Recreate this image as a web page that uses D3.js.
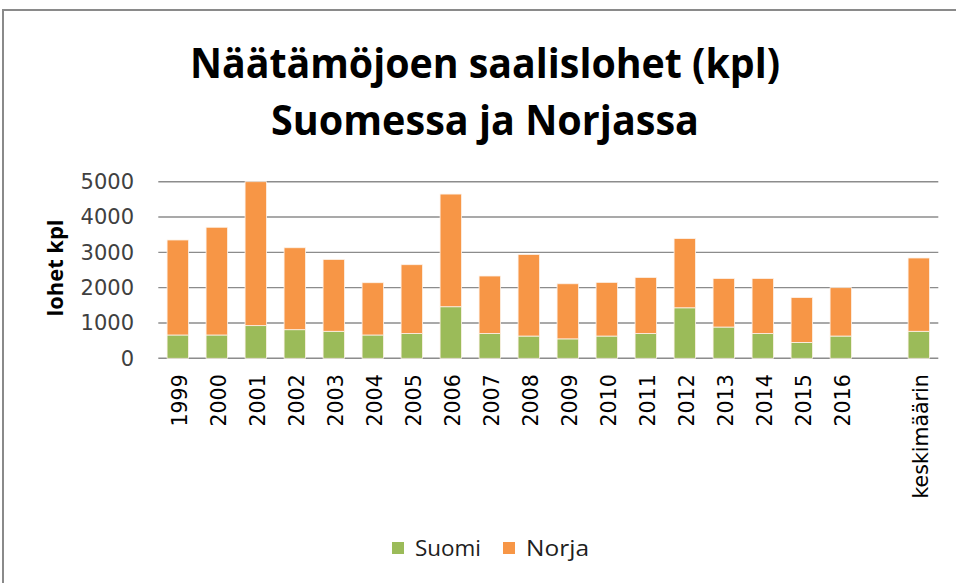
<!DOCTYPE html>
<html>
<head>
    <meta charset="utf-8">
    <title>Näätämöjoen saalislohet</title>
    <script type="text/javascript" src="https://cdn.jsdelivr.net/npm/d3@7/dist/d3.min.js"></script>
    <style>
        body { margin: 0; background: #fff; }
    </style>
</head>

<body>

<script type="text/javascript">
    // data
    var categories = ["1999", "2000", "2001", "2002", "2003", "2004", "2005", "2006", "2007", "2008",
        "2009", "2010", "2011", "2012", "2013", "2014", "2015", "2016", "", "keskimäärin"];
    var suomi = [660, 660, 925, 810, 765, 660, 700, 1460, 700, 630,
        550, 630, 700, 1430, 885, 700, 450, 630, null, 765];
    var total = [3350, 3710, 5000, 3130, 2800, 2140, 2650, 4650, 2330, 2940,
        2110, 2150, 2290, 3390, 2260, 2260, 1720, 2000, null, 2840];
    var yTicks = [0, 1000, 2000, 3000, 4000, 5000];
    var seriesNames = ["Suomi", "Norja"];
    var colors = ["#9bbb59", "#f79646"];

    var width = 956,
        height = 583;

    var svg = d3.select("body").append("svg")
        .attr("width", width)
        .attr("height", height)
        .attr("font-family", "DejaVu Sans");

    // chart frame
    svg.append("rect")
        .attr("x", 3).attr("y", 10)
        .attr("width", width + 20).attr("height", height + 20)
        .attr("fill", "#fff")
        .attr("stroke", "#8a8a8a")
        .attr("stroke-width", 2);

    var x = d3.scaleBand()
        .domain(d3.range(categories.length))
        .range([158.3, 938.3])
        .paddingInner(0.45)
        .paddingOuter(0.225);

    var y = d3.scaleLinear()
        .domain([0, 5000])
        .range([358.3, 181.7]);

    // gridlines
    svg.append("g")
        .selectAll("line")
        .data(yTicks)
        .enter()
        .append("line")
        .attr("x1", 158.3).attr("x2", 938.3)
        .attr("y1", function (d) { return y(d); })
        .attr("y2", function (d) { return y(d); })
        .attr("stroke", "#8c8c8c")
        .attr("stroke-width", 1.4);

    // y axis labels
    var yAxis = d3.axisLeft(y).tickValues(yTicks).tickFormat(d3.format("d")).tickSize(0).tickPadding(0);
    var gy = svg.append("g")
        .attr("transform", "translate(134,0)")
        .call(yAxis);
    gy.select(".domain").remove();
    gy.selectAll("text")
        .attr("font-family", "DejaVu Sans")
        .attr("font-size", 21)
        .attr("fill", "#404040");

    // stacked rows
    var rows = categories.map(function (c, i) {
        return {i: i, suomi: suomi[i], norja: total[i] == null ? null : total[i] - suomi[i]};
    }).filter(function (d) { return d.suomi != null; });

    var stack = d3.stack().keys(["suomi", "norja"]);
    var layers = stack(rows);

    svg.append("g")
        .selectAll("g")
        .data(layers)
        .enter()
        .append("g")
        .attr("fill", function (d, i) { return colors[i]; })
        .selectAll("rect")
        .data(function (d) { return d; })
        .enter()
        .append("rect")
        .attr("x", function (d) { return x(d.data.i); })
        .attr("width", x.bandwidth())
        .attr("y", function (d) { return y(d[1]); })
        .attr("height", function (d) { return y(d[0]) - y(d[1]); })
        .attr("stroke", "#fdf3ea")
        .attr("stroke-width", 0.8);

    // x axis labels (rotated)
    var xAxis = d3.axisBottom(x)
        .tickFormat(function (i) { return categories[i]; })
        .tickSize(0);
    var gx = svg.append("g")
        .attr("transform", "translate(0,358.3)")
        .call(xAxis);
    gx.select(".domain").remove();
    gx.selectAll("text")
        .attr("font-family", "DejaVu Sans")
        .attr("font-size", 20.5)
        .attr("fill", "#000")
        .attr("text-anchor", "end")
        .attr("dy", null)
        .attr("y", 0)
        .attr("transform", "translate(9,16) rotate(-90)");

    // y axis title
    svg.append("text")
        .attr("transform", "translate(63,268) rotate(-90)")
        .attr("text-anchor", "middle")
        .attr("font-family", "Open Sans")
        .attr("font-weight", "bold")
        .attr("font-size", 21)
        .attr("textLength", 97)
        .attr("lengthAdjust", "spacingAndGlyphs")
        .text("lohet kpl");

    // title
    var titleLines = ["Näätämöjoen saalislohet (kpl)", "Suomessa ja Norjassa"];
    var titleWidths = [590, 428];
    svg.append("g")
        .selectAll("text")
        .data(titleLines)
        .enter()
        .append("text")
        .attr("x", 485)
        .attr("y", function (d, i) { return 78 + i * 57; })
        .attr("text-anchor", "middle")
        .attr("font-family", "Open Sans")
        .attr("font-weight", "bold")
        .attr("font-size", 42)
        .attr("textLength", function (d, i) { return titleWidths[i]; })
        .attr("lengthAdjust", "spacingAndGlyphs")
        .text(function (d) { return d; });

    // legend
    var legendX = [392, 503];
    var legend = svg.append("g")
        .selectAll("g")
        .data(seriesNames)
        .enter()
        .append("g")
        .attr("transform", function (d, i) { return "translate(" + legendX[i] + ",548)"; });
    legend.append("rect")
        .attr("x", 0).attr("y", -6)
        .attr("width", 12).attr("height", 12)
        .attr("fill", function (d, i) { return colors[i]; });
    legend.append("text")
        .attr("x", 23)
        .attr("y", 7.5)
        .attr("font-family", "Open Sans")
        .attr("font-size", 22)
        .attr("textLength", function (d, i) { return i === 0 ? 66 : 63; })
        .attr("lengthAdjust", "spacingAndGlyphs")
        .attr("fill", "#202020")
        .text(function (d) { return d; });
</script>

</body>
</html>
